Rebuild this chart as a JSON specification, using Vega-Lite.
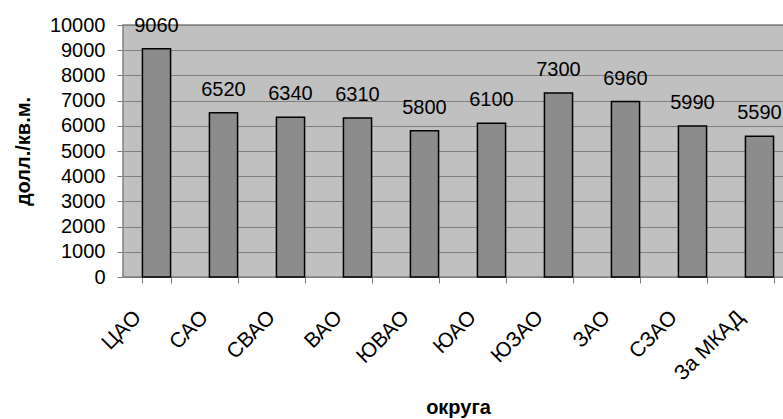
{
  "$schema": "https://vega.github.io/schema/vega-lite/v6.json",
  "autosize": {"type": "none"},
  "padding": {"left": 123, "top": 25, "right": 0, "bottom": 142},
  "width": 670,
  "height": 252,
  "background": "white",
  "config": {
    "font": "Liberation Sans",
    "view": {"fill": "#c0c0c0", "stroke": "#808080", "strokeWidth": 1.5}
  },
  "data": {
    "values": [
      {"okrug": "ЦАО", "price": 9060},
      {"okrug": "САО", "price": 6520},
      {"okrug": "СВАО", "price": 6340},
      {"okrug": "ВАО", "price": 6310},
      {"okrug": "ЮВАО", "price": 5800},
      {"okrug": "ЮАО", "price": 6100},
      {"okrug": "ЮЗАО", "price": 7300},
      {"okrug": "ЗАО", "price": 6960},
      {"okrug": "СЗАО", "price": 5990},
      {"okrug": "За МКАД", "price": 5590}
    ]
  },
  "encoding": {
    "x": {
      "field": "okrug",
      "type": "nominal",
      "sort": null,
      "scale": {"paddingInner": 0.58, "paddingOuter": 0.29},
      "axis": {
        "title": "округа",
        "titleFontSize": 20,
        "titleFontWeight": "bold",
        "titleColor": "black",
        "titleY": 136,
        "titleBaseline": "alphabetic",
        "labelAngle": -45,
        "labelAlign": "right",
        "labelBaseline": "middle",
        "labelFontSize": 21,
        "labelColor": "black",
        "labelPadding": 31,
        "labelOffset": -19,
        "tickBand": "extent",
        "tickColor": "#808080",
        "tickSize": 6,
        "domain": false,
        "grid": false
      }
    },
    "y": {
      "field": "price",
      "type": "quantitative",
      "scale": {"domain": [0, 10000]},
      "axis": {
        "title": "долл./кв.м.",
        "titleFontSize": 20,
        "titleFontWeight": "bold",
        "titleColor": "black",
        "titlePadding": 16,
        "values": [0, 1000, 2000, 3000, 4000, 5000, 6000, 7000, 8000, 9000, 10000],
        "labelFontSize": 20,
        "labelColor": "black",
        "labelPadding": 12,
        "tickColor": "#808080",
        "tickSize": 6,
        "domain": false,
        "grid": true,
        "gridColor": "#808080",
        "gridWidth": 1,
        "gridOpacity": 1,
        "format": "d"
      }
    }
  },
  "layer": [
    {
      "mark": {"type": "bar", "fill": "#8c8c8c", "stroke": "black", "strokeWidth": 1.5}
    },
    {
      "mark": {"type": "text", "baseline": "alphabetic", "dy": -17, "fontSize": 20, "color": "black"},
      "encoding": {"text": {"field": "price", "type": "quantitative", "format": "d"}}
    }
  ]
}
